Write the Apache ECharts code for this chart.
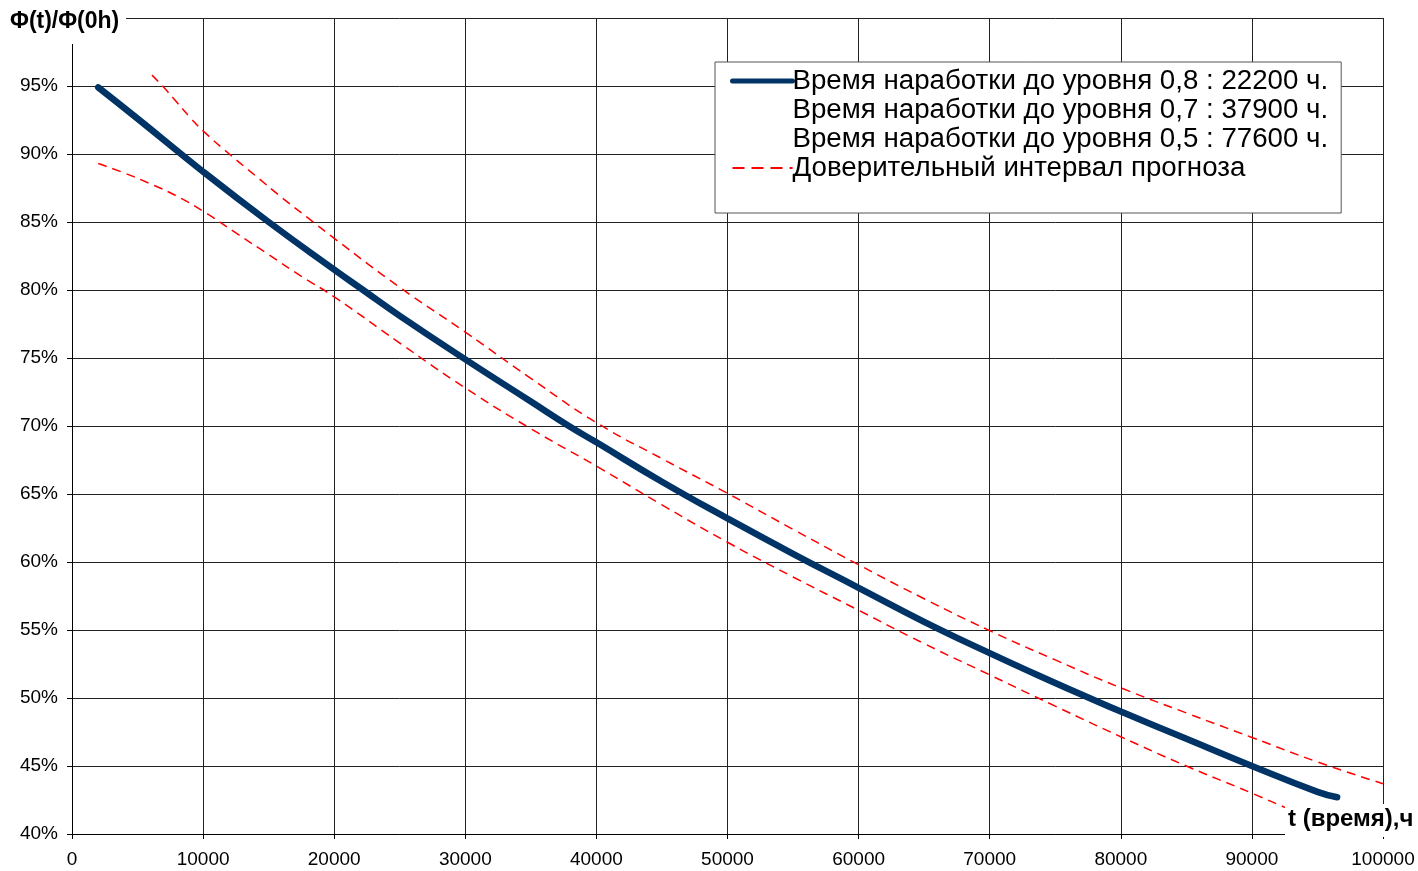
<!DOCTYPE html>
<html>
<head>
<meta charset="utf-8">
<script src="https://cdn.jsdelivr.net/npm/echarts@6/dist/echarts.min.js"></script>
<style>
html,body{margin:0;padding:0;background:#fff;}
#chart{width:1418px;height:871px;}
</style>
</head>
<body>
<div id="chart"></div>
<script>
// ---- data ----
const tMain   = [2000, 5000, 10000, 15000, 20000, 22200, 25000, 30000, 35000, 37900, 40000, 45000, 50000, 55000, 60000, 65000, 70000, 75000, 77600, 80000, 85000, 90000, 95000, 96500];
const phiMain = [94.9, 92.6, 88.7, 85.0, 81.5, 80.0, 78.1, 74.9, 71.8, 70.0, 68.8, 65.9, 63.2, 60.6, 58.1, 55.6, 53.3, 51.1, 50.0, 49.0, 47.0, 45.0, 43.1, 42.7];

const tUpper   = [6100, 7000, 8000, 9000, 10000, 12000, 14000, 16000, 18000, 20000, 25000, 30000, 35000, 40000, 45000, 50000, 55000, 60000, 65000, 70000, 75000, 80000, 85000, 90000, 95000, 100000];
const phiUpper = [95.8, 94.9, 93.8, 92.7, 91.7, 90.0, 88.4, 86.8, 85.3, 83.8, 80.2, 76.9, 73.5, 70.25, 67.6, 65.05, 62.4, 59.8, 57.3, 54.95, 52.8, 50.75, 48.9, 47.1, 45.3, 43.7];

const tLower   = [2000, 4000, 6000, 8000, 10000, 12500, 15000, 17500, 20000, 25000, 30000, 35000, 40000, 45000, 50000, 55000, 60000, 65000, 70000, 75000, 80000, 85000, 90000, 95000];
const phiLower = [89.3, 88.6, 87.8, 86.9, 85.8, 84.2, 82.6, 81.0, 79.5, 76.1, 72.8, 69.8, 67.05, 64.2, 61.45, 58.9, 56.45, 54.0, 51.7, 49.4, 47.15, 45.0, 43.0, 40.9];

const legendNames = [
  'Время наработки до уровня 0,8 : 22200 ч.',
  'Время наработки до уровня 0,7 : 37900 ч.',
  'Время наработки до уровня 0,5 : 77600 ч.',
  'Доверительный интервал прогноза'
];
const yAxisTitle = 'Φ(t)/Φ(0h)';
const xAxisTitle = 't (время),ч';

function pairs(xs, ys){ return xs.map((x,i)=>[x, ys[i]]); }

const FONT = '"Liberation Sans", Arial, sans-serif';
const chart = echarts.init(document.getElementById('chart'), null, {renderer:'canvas'});

chart.setOption({
  animation: false,
  backgroundColor: '#ffffff',
  textStyle: { fontFamily: FONT },
  grid: { left: 72, right: 35, top: 18, bottom: 37, containLabel: false },
  xAxis: {
    type: 'value', min: 0, max: 100000, interval: 10000,
    axisLine: { show: true, lineStyle: { color: '#000', width: 1 } },
    axisTick: { show: true, length: 5, lineStyle: { color: '#000' } },
    axisLabel: { color: '#000', fontSize: 19, fontFamily: FONT, margin: 16,
      formatter: v => String(v) },
    splitLine: { show: true, lineStyle: { color: '#222', width: 1 } }
  },
  yAxis: {
    type: 'value', min: 40, max: 100, interval: 5,
    axisLine: { show: true, lineStyle: { color: '#000', width: 1 } },
    axisTick: { show: true, length: 5, lineStyle: { color: '#000' } },
    axisLabel: { color: '#000', fontSize: 19, fontFamily: FONT, margin: 14,
      formatter: v => (v >= 100 ? '' : v + '%') },
    splitLine: { show: true, lineStyle: { color: '#222', width: 1 } }
  },
  legend: {
    orient: 'vertical',
    left: 715, top: 62,
    padding: [5, 13, 31, 15],
    itemGap: 1,
    itemWidth: 60, itemHeight: 14,
    backgroundColor: '#fff',
    borderColor: '#555', borderWidth: 1,
    selectedMode: false,
    itemStyle: { opacity: 0 },
    textStyle: { color: '#000', fontSize: 27.7, fontFamily: FONT, lineHeight: 28, padding: [0,0,0,-5] },
    data: [
      { name: legendNames[0], lineStyle: { width: 5, cap: 'round' } },
      { name: legendNames[1], icon: 'none' },
      { name: legendNames[2], icon: 'none' },
      { name: legendNames[3], lineStyle: { width: 2, type: [12, 7] } }
    ]
  },
  graphic: [
    { type: 'rect', z: 100, left: 0, top: 0, shape: { width: 126, height: 44 }, style: { fill: '#fff' } },
    { type: 'text', z: 101, left: 10, top: 10, style: { text: yAxisTitle, fill: '#000', font: 'bold 23px ' + FONT } },
    { type: 'rect', z: 100, left: 1285, top: 804, shape: { width: 133, height: 33 }, style: { fill: '#fff' } },
    { type: 'text', z: 101, left: 1288, top: 807, style: { text: xAxisTitle, fill: '#000', font: 'bold 24px ' + FONT } }
  ],
  series: [
    {
      name: legendNames[0], type: 'line', data: pairs(tMain, phiMain),
      smooth: true, symbol: 'none', z: 3,
      lineStyle: { color: '#003366', width: 6.5, cap: 'round' },
      itemStyle: { color: '#003366' }
    },
    { name: legendNames[1], type: 'line', data: [], symbol: 'none', lineStyle: { color: 'rgba(0,0,0,0)' }, itemStyle: { color: 'rgba(0,0,0,0)' } },
    { name: legendNames[2], type: 'line', data: [], symbol: 'none', lineStyle: { color: 'rgba(0,0,0,0)' }, itemStyle: { color: 'rgba(0,0,0,0)' } },
    {
      name: legendNames[3], type: 'line', data: pairs(tUpper, phiUpper),
      smooth: true, symbol: 'none',
      lineStyle: { color: '#ff0000', width: 1.5, type: [9, 6] },
      itemStyle: { color: '#ff0000' }
    },
    {
      name: legendNames[3], type: 'line', data: pairs(tLower, phiLower),
      smooth: true, symbol: 'none',
      lineStyle: { color: '#ff0000', width: 1.5, type: [9, 6] },
      itemStyle: { color: '#ff0000' }
    }
  ]
});
</script>
</body>
</html>
